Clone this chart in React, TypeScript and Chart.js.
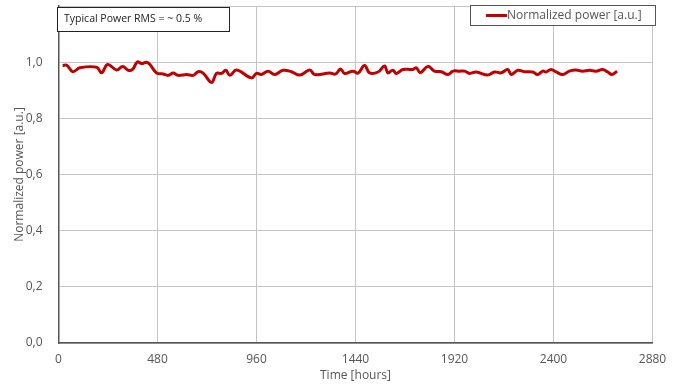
import React, { useEffect, useRef } from "react";
import { Chart, registerables } from "chart.js";

Chart.register(...registerables);

const hours = [20, 40, 69, 104, 185, 209, 238, 282, 311, 338, 359, 382, 403, 427, 443, 476, 507, 532, 556, 580, 621, 653, 677, 701, 742, 766, 790, 811, 831, 863, 936, 960, 984, 1016, 1048, 1089, 1129, 1170, 1218, 1242, 1315, 1344, 1367, 1387, 1428, 1452, 1484, 1508, 1549, 1581, 1597, 1621, 1638, 1670, 1718, 1735, 1754, 1791, 1823, 1856, 1888, 1912, 1944, 1969, 1993, 2025, 2081, 2114, 2146, 2178, 2195, 2227, 2259, 2299, 2323, 2348, 2364, 2388, 2413, 2445, 2477, 2509, 2541, 2574, 2606, 2638, 2663, 2684, 2708];
const power = [0.988, 0.989, 0.966, 0.98, 0.982, 0.962, 0.992, 0.972, 0.985, 0.971, 0.974, 1.001, 0.995, 1.0, 0.992, 0.961, 0.958, 0.953, 0.961, 0.953, 0.956, 0.953, 0.966, 0.961, 0.928, 0.96, 0.96, 0.971, 0.953, 0.972, 0.944, 0.96, 0.956, 0.968, 0.956, 0.971, 0.966, 0.954, 0.972, 0.956, 0.961, 0.958, 0.976, 0.96, 0.968, 0.961, 0.988, 0.962, 0.965, 0.986, 0.962, 0.971, 0.96, 0.974, 0.974, 0.98, 0.962, 0.985, 0.968, 0.966, 0.956, 0.968, 0.968, 0.968, 0.96, 0.965, 0.954, 0.965, 0.962, 0.974, 0.956, 0.971, 0.966, 0.965, 0.956, 0.968, 0.965, 0.974, 0.965, 0.956, 0.968, 0.972, 0.968, 0.971, 0.968, 0.974, 0.965, 0.956, 0.968];

const seriesLabel = "Normalized power [a.u.]";
const annotationText = "Typical Power RMS = ~ 0.5 %";
const xTitle = "Time [hours]";
const yTitle = "Normalized power [a.u.]";
const FONT = "'Open Sans', Lato, sans-serif";
const RED = "#c00000";

const boxesPlugin = {
  id: "boxes",
  afterDraw(chart: any) {
    const ctx = chart.ctx;
    ctx.save();
    // annotation box
    ctx.fillStyle = "#ffffff";
    ctx.fillRect(57.5, 7.5, 172, 24);
    ctx.strokeStyle = "#222";
    ctx.lineWidth = 1;
    ctx.strokeRect(57.5, 7.5, 172, 24);
    ctx.fillStyle = "#222";
    ctx.font = "10.5px " + FONT;
    ctx.textBaseline = "middle";
    ctx.textAlign = "left";
    ctx.fillText(annotationText, 64, 19.5);
    // legend box
    ctx.fillStyle = "#ffffff";
    ctx.fillRect(470.5, 5.5, 185, 20);
    ctx.strokeStyle = "#555";
    ctx.lineWidth = 1;
    ctx.strokeRect(470.5, 5.5, 185, 20);
    ctx.strokeStyle = RED;
    ctx.lineWidth = 3;
    ctx.beginPath();
    ctx.moveTo(486, 15.5);
    ctx.lineTo(507, 15.5);
    ctx.stroke();
    ctx.fillStyle = "#555";
    ctx.font = "12px " + FONT;
    ctx.fillText(seriesLabel, 507, 15.5);
    ctx.restore();
  },
};

export default function App() {
  const ref = useRef<HTMLCanvasElement>(null);
  useEffect(() => {
    if (!ref.current) return;
    const chart = new Chart(ref.current, {
      type: "line",
      data: {
        datasets: [
          {
            label: seriesLabel,
            data: hours.map((h, i) => ({ x: h, y: power[i] })),
            borderColor: RED,
            backgroundColor: RED,
            borderWidth: 3,
            pointRadius: 0,
            tension: 0.4,
            fill: false,
          },
        ],
      },
      options: {
        animation: false,
        responsive: false,
        maintainAspectRatio: false,
        layout: { padding: { top: 6, right: 30.5, left: 0, bottom: 0 } },
        plugins: {
          legend: { display: false },
          tooltip: { enabled: false },
        },
        scales: {
          x: {
            type: "linear",
            min: 0,
            max: 2880,
            afterFit: (s: any) => {
              s.height = 44;
              s.paddingLeft = 0;
              s.paddingRight = 0;
            },
            ticks: {
              stepSize: 480,
              color: "#555",
              font: { family: FONT, size: 12 },
              padding: 9,
              callback: (v: any) => String(v),
            },
            grid: { color: "#c4c4c4", lineWidth: 1, drawTicks: false },
            border: { color: "#555", width: 1.5 },
            title: {
              display: true,
              text: xTitle,
              color: "#555",
              font: { family: FONT, size: 12 },
              padding: { top: 2, bottom: 4 },
            },
          },
          y: {
            type: "linear",
            min: 0,
            max: 1.2,
            afterFit: (s: any) => {
              s.width = 58.5;
              s.paddingTop = 0;
              s.paddingBottom = 0;
            },
            ticks: {
              stepSize: 0.2,
              color: "#555",
              font: { family: FONT, size: 12 },
              padding: 16,
              callback: (v: any) =>
                Math.abs(Number(v) - 1.2) < 1e-6 ? "" : Number(v).toFixed(1).replace(".", ","),
            },
            grid: { color: "#c4c4c4", lineWidth: 1, drawTicks: false },
            border: { color: "#555", width: 1.5 },
            title: {
              display: true,
              text: yTitle,
              color: "#555",
              font: { family: FONT, size: 12 },
              padding: { top: 12, bottom: 4 },
            },
          },
        },
      },
      plugins: [boxesPlugin],
    });
    return () => chart.destroy();
  }, []);
  return (
    <div style={{ position: "fixed", left: 0, top: 0, width: 683, height: 387, background: "#fff" }}>
      <canvas ref={ref} width={683} height={387} style={{ width: 683, height: 387 }} />
    </div>
  );
}
